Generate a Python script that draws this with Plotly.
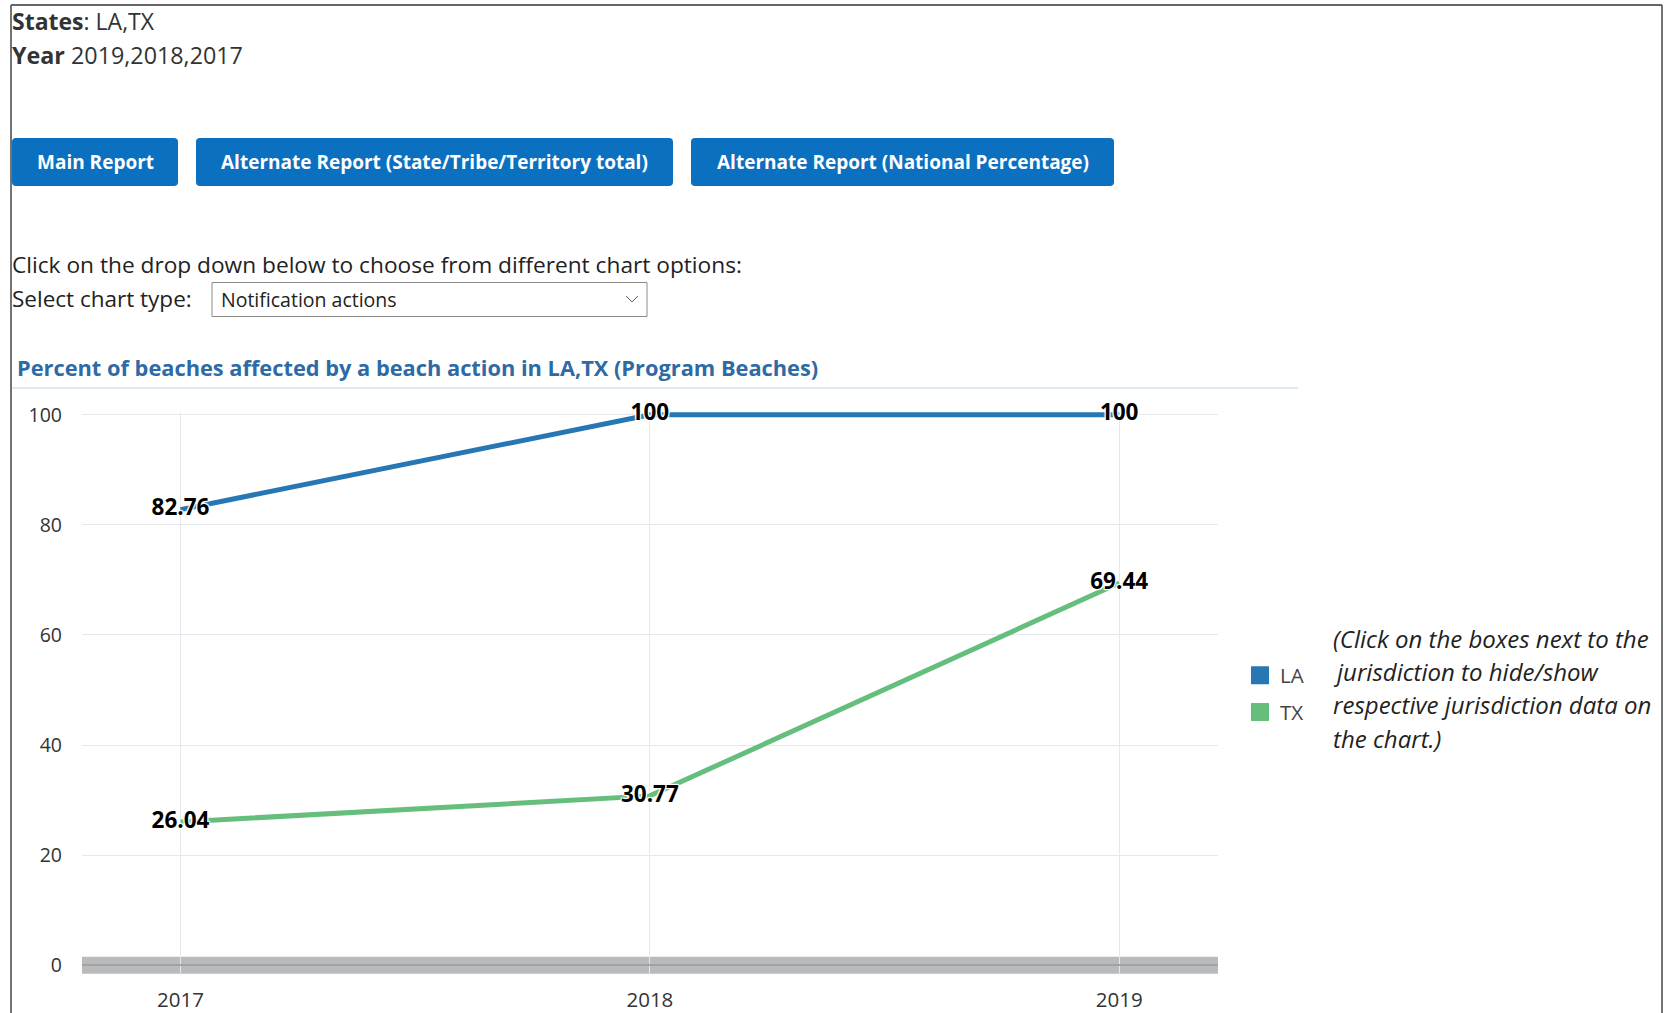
import plotly.graph_objects as go

# ---- data -------------------------------------------------------------
years = [2017, 2018, 2019]
la_values = [82.76, 100, 100]
tx_values = [26.04, 30.77, 69.44]
state_names = ["LA", "TX"]
state_colors = ["#2777b4", "#66be7d"]
y_ticks = [0, 20, 40, 60, 80, 100]
x_tick_labels = ["2017", "2018", "2019"]
buttons = ["Main Report",
           "Alternate Report (State/Tribe/Territory total)",
           "Alternate Report (National Percentage)"]
note_lines = ["(Click on the boxes next to the",
              "jurisdiction to hide/show",
              "respective jurisdiction data on",
              "the chart.)"]

# ---- page geometry (pixels) --------------------------------------------
W, H = 1665, 1013
PL, PR, PT, PB = 82, 1218, 412, 975   # plot area box

FONT = "Open Sans, Segoe UI, sans-serif"


def px(x):
    return (x - PL) / (PR - PL)


def py(y):
    return (PB - y) / (PB - PT)


def rounded_rect(x0, y0, x1, y1, r):
    return (f"M {px(x0 + r)},{py(y0)} L {px(x1 - r)},{py(y0)} "
            f"Q {px(x1)},{py(y0)} {px(x1)},{py(y0 + r)} "
            f"L {px(x1)},{py(y1 - r)} Q {px(x1)},{py(y1)} {px(x1 - r)},{py(y1)} "
            f"L {px(x0 + r)},{py(y1)} Q {px(x0)},{py(y1)} {px(x0)},{py(y1 - r)} "
            f"L {px(x0)},{py(y0 + r)} Q {px(x0)},{py(y0)} {px(x0 + r)},{py(y0)} Z")


fig = go.Figure()

halo = ("1px 1px 1px #fff, -1px -1px 1px #fff, 1px -1px 1px #fff, "
        "-1px 1px 1px #fff, 0 0 2px #fff")

for name, color, vals in zip(state_names, state_colors, [la_values, tx_values]):
    fig.add_trace(go.Scatter(
        x=years, y=vals, name=name, legendgroup=name, showlegend=False,
        mode="lines+text", line=dict(color=color, width=5),
        text=[f"{v:g}" for v in vals], textposition="middle center",
        textfont=dict(family=FONT, size=22.5, color="#000", weight="bold",
                      shadow=halo),
        cliponaxis=False, hoverinfo="x+y+name"))

# legend entries with square swatches
for name, color in zip(state_names, state_colors):
    fig.add_trace(go.Scatter(
        x=[None], y=[None], name=name, legendgroup=name, mode="markers",
        marker=dict(symbol="square", size=17, color=color,
                    line=dict(color=color, width=2))))

shapes = []
# page frame
shapes.append(dict(type="line", xref="paper", yref="paper",
                   x0=px(11), x1=px(11), y0=py(5), y1=py(1013),
                   line=dict(color="#444", width=1.5)))
shapes.append(dict(type="line", xref="paper", yref="paper",
                   x0=px(11), x1=px(1662), y0=py(5), y1=py(5),
                   line=dict(color="#666", width=2)))
shapes.append(dict(type="line", xref="paper", yref="paper",
                   x0=px(1662), x1=px(1662), y0=py(5), y1=py(1013),
                   line=dict(color="#444", width=1.5)))

# report buttons
btn_boxes = [(12, 178), (196, 673), (691, 1114)]
for (x0, x1) in btn_boxes:
    shapes.append(dict(type="path", xref="paper", yref="paper",
                       path=rounded_rect(x0, 138, x1, 186, 4),
                       fillcolor="#0b70c0", line=dict(width=0)))

# drop-down box and chevron
shapes.append(dict(type="rect", xref="paper", yref="paper",
                   x0=px(212), x1=px(647), y0=py(282.5), y1=py(316.5),
                   fillcolor="#fff", line=dict(color="#8a8a8a", width=1)))
shapes.append(dict(type="path", xref="paper", yref="paper",
                   path=f"M {px(626)},{py(296)} L {px(632)},{py(302)} L {px(638)},{py(296)}",
                   line=dict(color="#666", width=1)))

# title underline
shapes.append(dict(type="line", xref="paper", yref="paper",
                   x0=px(12), x1=px(1298), y0=py(388), y1=py(388),
                   line=dict(color="#d3e2f1", width=1.5)))

# grey band along the zero line
shapes.append(dict(type="rect", xref="paper", x0=0, x1=1,
                   yref="y", ysizemode="pixel", yanchor=0, y0=-8.5, y1=8.5,
                   fillcolor="#b9babc", line=dict(width=0), layer="below"))

annotations = []


def text(x, y, s, size, color="#222", xanchor="left", bold=False, italic=False,
         family=FONT):
    annotations.append(dict(
        xref="paper", yref="paper", x=px(x), y=py(y), text=s, showarrow=False,
        xanchor=xanchor, yanchor="middle",
        font=dict(family=family, size=size, color=color,
                  weight="bold" if bold else "normal",
                  style="italic" if italic else "normal")))


text(10, 21, "<b>States</b>: LA,TX", 23, color="#333")
text(10, 55, "<b>Year</b> 2019,2018,2017", 23.3, color="#333")

btn_centers = [(12 + 178) / 2, (196 + 673) / 2, (691 + 1114) / 2]
for label, cx in zip(buttons, btn_centers):
    text(cx, 162, label, 19, color="#fff", xanchor="center", bold=True)

text(10, 264.5, "Click on the drop down below to choose from different chart options:",
     22.7, color="#222")
text(10, 298, "Select chart type:", 22.5, color="#222")
text(219, 299.5, "Notification actions", 19.5, color="#222")

text(15, 367, "Percent of beaches affected by a beach action in LA,TX (Program Beaches)",
     21.8, color="#2e6aa5", bold=True)

for i, line in enumerate(note_lines):
    text(1331, 638 + i * 33.4, line, 24, color="#222", italic=True)

fig.update_layout(
    width=W, height=H,
    margin=dict(l=PL, r=W - PR, t=PT, b=H - PB, pad=0, autoexpand=False),
    paper_bgcolor="#fff", plot_bgcolor="#fff",
    showlegend=True,
    legend=dict(x=px(1240), y=py(655.5), xanchor="left", yanchor="top",
                font=dict(family=FONT, size=20.5, color="#444"),
                tracegroupgap=7, bgcolor="rgba(0,0,0,0)"),
    shapes=shapes, annotations=annotations,
    xaxis=dict(range=[2016.79, 2019.2105], tickvals=years, ticktext=x_tick_labels,
               showgrid=True, gridcolor="#e6e8ee", gridwidth=1, zeroline=False,
               showline=False, ticks="", ticklabelstandoff=10, automargin=False,
               tickfont=dict(family=FONT, size=20.5, color="#333"), fixedrange=True),
    yaxis=dict(range=[-1.76, 100.5], tickvals=y_ticks,
               showgrid=True, gridcolor="#e6e8ee", gridwidth=1,
               zeroline=True, zerolinecolor="#a3a3a3", zerolinewidth=2,
               showline=False, ticks="", ticklabelstandoff=19, automargin=False,
               tickfont=dict(family=FONT, size=19.5, color="#333"), fixedrange=True),
    hovermode="closest",
)

fig.write_html("out.html")
